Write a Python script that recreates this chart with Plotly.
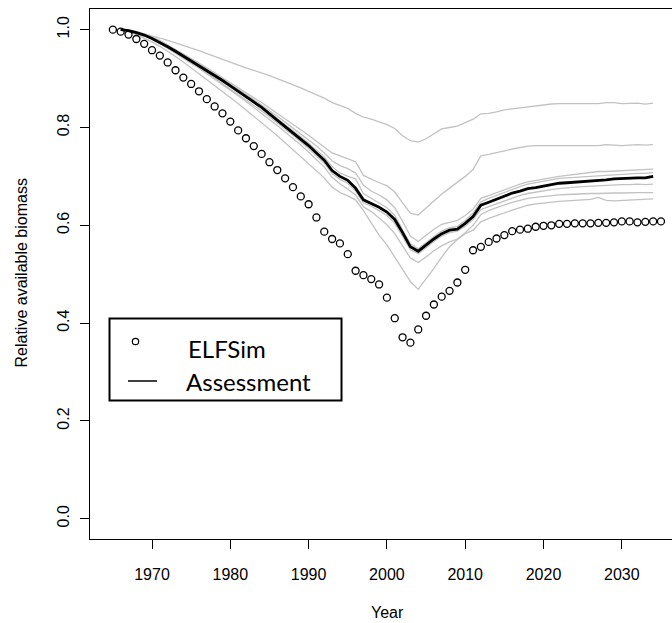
import plotly.graph_objects as go

# ---- data -------------------------------------------------------------
sim_years = list(range(1965, 2036))
elfsim = [
    1.000, 0.996, 0.990, 0.981, 0.971, 0.958, 0.947, 0.933, 0.917, 0.902,
    0.889, 0.874, 0.858, 0.843, 0.829, 0.812, 0.794, 0.778, 0.762, 0.746,
    0.729, 0.713, 0.696, 0.678, 0.659, 0.643, 0.616, 0.587, 0.572, 0.563,
    0.541, 0.507, 0.498, 0.490, 0.479, 0.452, 0.410, 0.371, 0.360, 0.387,
    0.415, 0.438, 0.454, 0.466, 0.483, 0.509, 0.549, 0.556, 0.566, 0.573,
    0.580, 0.588, 0.591, 0.593, 0.597, 0.599, 0.600, 0.603, 0.603, 0.604,
    0.604, 0.604, 0.605, 0.605, 0.606, 0.608, 0.608, 0.606, 0.607, 0.608,
    0.608,
]

years = list(range(1966, 2035))
assessment = [
    1.000, 0.998, 0.994, 0.989, 0.982, 0.974, 0.965, 0.956, 0.946, 0.936,
    0.927, 0.917, 0.907, 0.896, 0.885, 0.874, 0.863, 0.852, 0.841, 0.828,
    0.815, 0.803, 0.790, 0.777, 0.763, 0.748, 0.733, 0.712, 0.700, 0.692,
    0.676, 0.652, 0.645, 0.637, 0.627, 0.612, 0.585, 0.556, 0.547, 0.560,
    0.572, 0.583, 0.590, 0.592, 0.604, 0.618, 0.641, 0.647, 0.653, 0.660,
    0.666, 0.670, 0.675, 0.677, 0.680, 0.683, 0.686, 0.687, 0.688, 0.690,
    0.691, 0.692, 0.693, 0.695, 0.696, 0.696, 0.697, 0.697, 0.700,
]

# individual assessment runs (grey)
run_a = [
    1.000, 0.999, 0.996, 0.992, 0.988, 0.983, 0.978, 0.973, 0.968, 0.962,
    0.957, 0.951, 0.945, 0.939, 0.933, 0.928, 0.922, 0.917, 0.912, 0.906,
    0.900, 0.894, 0.888, 0.881, 0.874, 0.867, 0.860, 0.851, 0.845, 0.839,
    0.829, 0.821, 0.817, 0.811, 0.806, 0.798, 0.783, 0.773, 0.770, 0.777,
    0.787, 0.797, 0.800, 0.803, 0.810, 0.817, 0.828, 0.829, 0.832, 0.836,
    0.838, 0.840, 0.843, 0.845, 0.847, 0.848, 0.849, 0.849, 0.849, 0.849,
    0.849, 0.849, 0.851, 0.851, 0.849, 0.850, 0.850, 0.848, 0.850,
]
run_b = [
    1.000, 0.999, 0.996, 0.991, 0.985, 0.978, 0.969, 0.960, 0.951, 0.941,
    0.932, 0.922, 0.912, 0.902, 0.892, 0.882, 0.871, 0.861, 0.851, 0.840,
    0.829, 0.818, 0.807, 0.796, 0.784, 0.772, 0.760, 0.748, 0.742, 0.736,
    0.730, 0.702, 0.694, 0.687, 0.681, 0.668, 0.646, 0.625, 0.621, 0.636,
    0.650, 0.664, 0.676, 0.688, 0.700, 0.714, 0.742, 0.745, 0.748, 0.752,
    0.756, 0.759, 0.762, 0.763, 0.763, 0.763, 0.763, 0.763, 0.763, 0.763,
    0.763, 0.763, 0.765, 0.764, 0.763, 0.764, 0.765, 0.764, 0.765,
]
run_c = [
    1.000, 0.998, 0.995, 0.990, 0.984, 0.976, 0.967, 0.958, 0.948, 0.939,
    0.929, 0.920, 0.910, 0.899, 0.889, 0.878, 0.868, 0.857, 0.846, 0.835,
    0.823, 0.811, 0.799, 0.787, 0.775, 0.762, 0.748, 0.732, 0.722, 0.716,
    0.707, 0.682, 0.670, 0.662, 0.652, 0.636, 0.608, 0.578, 0.567, 0.580,
    0.592, 0.602, 0.606, 0.610, 0.620, 0.633, 0.655, 0.661, 0.667, 0.673,
    0.679, 0.684, 0.689, 0.692, 0.695, 0.698, 0.700, 0.702, 0.704, 0.706,
    0.708, 0.710, 0.710, 0.711, 0.712, 0.712, 0.713, 0.714, 0.715,
]
run_d = [
    1.000, 0.998, 0.995, 0.990, 0.983, 0.975, 0.966, 0.957, 0.947, 0.937,
    0.928, 0.918, 0.908, 0.897, 0.887, 0.876, 0.865, 0.854, 0.843, 0.831,
    0.818, 0.806, 0.794, 0.781, 0.768, 0.754, 0.740, 0.720, 0.707, 0.700,
    0.695, 0.665, 0.655, 0.646, 0.636, 0.620, 0.592, 0.562, 0.552, 0.565,
    0.577, 0.588, 0.595, 0.598, 0.610, 0.625, 0.648, 0.655, 0.661, 0.668,
    0.674, 0.679, 0.684, 0.687, 0.690, 0.693, 0.696, 0.697, 0.698, 0.700,
    0.701, 0.702, 0.703, 0.704, 0.705, 0.705, 0.706, 0.706, 0.708,
]
run_e = [
    1.000, 0.998, 0.994, 0.988, 0.981, 0.972, 0.963, 0.953, 0.943, 0.933,
    0.923, 0.912, 0.901, 0.890, 0.879, 0.868, 0.857, 0.845, 0.834, 0.822,
    0.810, 0.797, 0.784, 0.771, 0.757, 0.742, 0.727, 0.706, 0.694, 0.686,
    0.670, 0.646, 0.639, 0.630, 0.620, 0.604, 0.578, 0.550, 0.542, 0.555,
    0.567, 0.578, 0.585, 0.588, 0.598, 0.612, 0.632, 0.638, 0.644, 0.650,
    0.656, 0.661, 0.665, 0.668, 0.671, 0.673, 0.675, 0.677, 0.678, 0.679,
    0.680, 0.681, 0.682, 0.682, 0.683, 0.683, 0.684, 0.683, 0.684,
]
run_f = [
    1.000, 0.998, 0.994, 0.988, 0.981, 0.972, 0.962, 0.952, 0.942, 0.931,
    0.921, 0.910, 0.899, 0.888, 0.877, 0.865, 0.853, 0.841, 0.829, 0.817,
    0.804, 0.791, 0.778, 0.764, 0.750, 0.735, 0.719, 0.698, 0.685, 0.674,
    0.662, 0.638, 0.628, 0.615, 0.601, 0.583, 0.557, 0.533, 0.524, 0.535,
    0.548, 0.558, 0.566, 0.572, 0.585, 0.600, 0.622, 0.630, 0.636, 0.642,
    0.647, 0.651, 0.655, 0.657, 0.659, 0.661, 0.662, 0.663, 0.664, 0.664,
    0.665, 0.665, 0.666, 0.666, 0.666, 0.667, 0.667, 0.667, 0.667,
]
run_g = [
    1.000, 0.996, 0.990, 0.983, 0.975, 0.966, 0.956, 0.945, 0.934, 0.922,
    0.910, 0.898, 0.886, 0.874, 0.862, 0.849, 0.836, 0.823, 0.810, 0.797,
    0.783, 0.769, 0.755, 0.741, 0.727, 0.712, 0.697, 0.678, 0.667, 0.660,
    0.652, 0.630, 0.605, 0.580, 0.560, 0.535, 0.510, 0.485, 0.469, 0.490,
    0.512, 0.535, 0.556, 0.571, 0.583, 0.590, 0.607, 0.614, 0.620, 0.626,
    0.631, 0.636, 0.641, 0.644, 0.646, 0.648, 0.649, 0.650, 0.651, 0.652,
    0.653, 0.657, 0.651, 0.650, 0.651, 0.652, 0.653, 0.653, 0.654,
]
runs = [run_a, run_b, run_c, run_d, run_e, run_f, run_g]

x_ticks = [1970, 1980, 1990, 2000, 2010, 2020, 2030]
y_ticks = [0.0, 0.2, 0.4, 0.6, 0.8, 1.0]

# ---- figure -----------------------------------------------------------
W, H = 672, 623
ML, MR, MT, MB = 90, 0, 9, 84
PW, PH = W - ML - MR, H - MT - MB


def px_x(px):
    return (px - ML) / PW


def px_y(py):
    return (H - MB - py) / PH


AX_FONT = dict(family="Liberation Sans, Arial, sans-serif", size=16, color="black")
LEG_FONT = dict(family="Lato, Carlito, sans-serif", size=24, color="black")

fig = go.Figure()

for run in runs:
    fig.add_trace(go.Scatter(
        x=years, y=run, mode="lines",
        line=dict(color="#c2c2c2", width=1.3),
        showlegend=False, hoverinfo="skip",
    ))

fig.add_trace(go.Scatter(
    x=years, y=assessment, mode="lines", name="Assessment",
    line=dict(color="black", width=2.8),
    showlegend=False,
))

fig.add_trace(go.Scatter(
    x=sim_years, y=elfsim, mode="markers", name="ELFSim",
    marker=dict(symbol="circle-open", size=7, color="black",
                line=dict(width=1.3, color="black")),
    showlegend=False,
))

# legend box, drawn in the style of a base-graphics legend
shapes = [
    dict(type="rect", xref="paper", yref="paper",
         x0=px_x(109.5), x1=px_x(341.5), y0=px_y(400.5), y1=px_y(318.5),
         line=dict(color="black", width=2), fillcolor="white", layer="above"),
    dict(type="circle", xref="paper", yref="paper",
         xsizemode="pixel", ysizemode="pixel",
         xanchor=px_x(135.5), yanchor=px_y(341.5),
         x0=-3.2, x1=3.2, y0=-3.2, y1=3.2,
         line=dict(color="black", width=1.2), layer="above"),
    dict(type="line", xref="paper", yref="paper",
         x0=px_x(128), x1=px_x(157), y0=px_y(381), y1=px_y(381),
         line=dict(color="black", width=1.5), layer="above"),
]

annotations = [
    dict(text="ELFSim", xref="paper", yref="paper",
         x=px_x(186), y=px_y(348), xanchor="left", yanchor="middle",
         showarrow=False, font=LEG_FONT),
    dict(text="Assessment", xref="paper", yref="paper",
         x=px_x(184), y=px_y(381), xanchor="left", yanchor="middle",
         showarrow=False, font=LEG_FONT),
    dict(text="Year", xref="paper", yref="paper",
         x=px_x(387), y=px_y(612), xanchor="center", yanchor="middle",
         showarrow=False, font=AX_FONT),
    dict(text="Relative available biomass", xref="paper", yref="paper",
         x=px_x(21), y=px_y(273.5), xanchor="center", yanchor="middle",
         textangle=-90, showarrow=False, font=AX_FONT),
]

fig.update_layout(
    width=W, height=H,
    margin=dict(l=ML, r=MR, t=MT, b=MB, pad=0),
    paper_bgcolor="white", plot_bgcolor="white",
    shapes=shapes, annotations=annotations,
    showlegend=False,
    font=AX_FONT,
)

fig.update_xaxes(
    range=[1962.08, 2036.41],
    tickvals=x_ticks, ticks="outside", ticklen=9, tickwidth=1, tickcolor="black",
    showline=True, linecolor="black", linewidth=1.2, mirror=True,
    showgrid=False, zeroline=False, tickfont=AX_FONT,
    ticklabelstandoff=12,
)
fig.update_yaxes(
    range=[-0.0415, 1.0423],
    tickvals=y_ticks, tickformat=".1f", tickangle=-90,
    ticks="outside", ticklen=9, tickwidth=1, tickcolor="black",
    showline=True, linecolor="black", linewidth=1.2, mirror=False,
    showgrid=False, zeroline=False, tickfont=AX_FONT,
    ticklabelstandoff=5,
)

fig.write_html("out.html")
